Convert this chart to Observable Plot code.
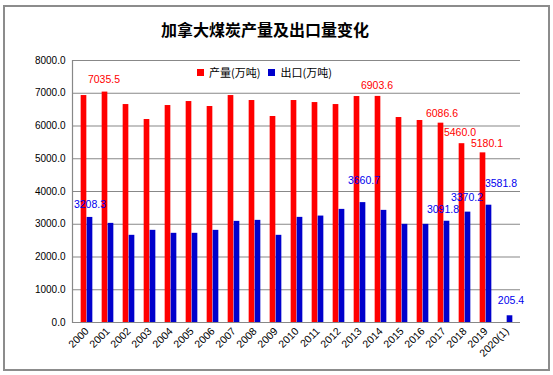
<!DOCTYPE html>
<html>
<head>
<meta charset="utf-8">
<script src="https://cdn.jsdelivr.net/npm/d3@7"></script>
<script src="https://cdn.jsdelivr.net/npm/@observablehq/plot@0.6"></script>
<style>
  html, body { margin: 0; padding: 0; background: #fff; }
  #wrap { position: relative; width: 553px; height: 375px; overflow: hidden; font-family: "Noto Sans CJK SC", "Liberation Sans", sans-serif; }
  #frame { position: absolute; left: 3px; top: 5px; width: 543px; height: 362px; border: 2px solid #8c8c8c; box-sizing: content-box; }
  #title { position: absolute; left: 0; width: 530px; top: 17px; text-align: center; font-size: 16px; font-weight: bold; color: #000; }
  #legend { position: absolute; left: 197px; top: 64px; font-size: 11px; color: #000; display: flex; align-items: center; white-space: nowrap; }
  #legend .sw { display: inline-block; width: 7px; height: 7px; margin-right: 5px; }
  #chart { position: absolute; left: 0; top: 0; }
</style>
</head>
<body>
<div id="wrap">
  <div id="frame"></div>
  <div id="chart"></div>
  <div id="title">加拿大煤炭产量及出口量变化</div>
  <div id="legend"></div>
</div>
<script>
const years = ["2000","2001","2002","2003","2004","2005","2006","2007","2008","2009","2010",
  "2011","2012","2013","2014","2015","2016","2017","2018","2019","2020(1)"];
const production = [6930, 7035.5, 6655, 6198, 6625, 6747, 6595, 6930, 6778, 6290, 6778,
  6716, 6655, 6900, 6903.6, 6259, 6168, 6086.6, 5460.0, 5180.1, null];
const exportsVol = [3208.3, 3027, 2662, 2814, 2723, 2723, 2814, 3088, 3119, 2662, 3210,
  3250, 3454, 3660.7, 3424, 2997, 2997, 3091.8, 3370.2, 3581.8, 205.4];
const productionLabeled = ["2001","2014","2017","2018","2019"];
const exportsLabeled = ["2000","2013","2017","2018","2019","2020(1)"];
const seriesNames = ["产量(万吨)", "出口(万吨)"];
const yTicks = [0,1000,2000,3000,4000,5000,6000,7000,8000];

const RED = "#ff0000", BLUE = "#0000cc";

// label placement (pixel nudges, as in the original's manually placed data labels)
const prodNudge = {"2001": [-1, -12], "2014": [-1, -11], "2017": [1, -10], "2018": [-2, -11], "2019": [4, -9]};
const expNudge = {"2000": [0, -13], "2013": [1, -22], "2017": [-4, -12], "2018": [-1, -15], "2019": [12, -22], "2020(1)": [1, -15]};

const prodData = years.map((y, i) => ({year: y, value: production[i]})).filter(d => d.value != null);
const expData = years.map((y, i) => ({year: y, value: exportsVol[i]}));

const W = 553, H = 375, mL = 72, mR = 33;
const band = (W - mL - mR) / years.length;
const barW = 6;
const inner = band / 2 - barW;

const labelMarks = [];
prodData.filter(d => productionLabeled.includes(d.year)).forEach(d => {
  const [dx, dy] = prodNudge[d.year];
  labelMarks.push(Plot.text([d], {x: "year", y: "value", text: d => d.value.toFixed(1), fill: RED, dx: dx - 3, dy, fontSize: 10.5}));
});
expData.filter(d => exportsLabeled.includes(d.year)).forEach(d => {
  const [dx, dy] = expNudge[d.year];
  labelMarks.push(Plot.text([d], {x: "year", y: "value", text: d => d.value.toFixed(1), fill: "#0000ee", dx: dx + 3, dy, fontSize: 10.5}));
});

const chart = Plot.plot({
  width: W, height: H,
  marginLeft: mL, marginRight: mR, marginTop: 60, marginBottom: 53,
  style: {fontFamily: "'Liberation Sans', 'DejaVu Sans', sans-serif", fontSize: "10px", color: "#000", background: "transparent"},
  x: {domain: years, padding: 0, label: null},
  y: {domain: [0, 8000], label: null},
  marks: [
    Plot.gridY(yTicks, {stroke: "#888", strokeOpacity: 1, strokeWidth: 1.2}),
    Plot.frame({anchor: "left", stroke: "#888", strokeWidth: 1.2}),
    Plot.axisY(yTicks, {tickFormat: d => d.toFixed(1), tickSize: 0, tickPadding: 7, label: null, fontSize: 10}),
    Plot.axisX({tickSize: 0, tickRotate: -45, tickPadding: 7, label: null, fontSize: 10.5}),
    Plot.barY(prodData, {x: "year", y: "value", fill: RED, insetLeft: inner, insetRight: band / 2}),
    Plot.barY(expData, {x: "year", y: "value", fill: BLUE, insetLeft: band / 2, insetRight: inner}),
    ...labelMarks
  ]
});
document.getElementById("chart").appendChild(chart);

const legend = document.getElementById("legend");
[[seriesNames[0], RED], [seriesNames[1], BLUE]].forEach(([name, c], i) => {
  const item = document.createElement("span");
  item.style.display = "inline-flex";
  item.style.alignItems = "center";
  item.style.marginRight = i === 0 ? "8px" : "0";
  item.innerHTML = `<span class="sw" style="background:${c}"></span>${name}`;
  legend.appendChild(item);
});
</script>
</body>
</html>
